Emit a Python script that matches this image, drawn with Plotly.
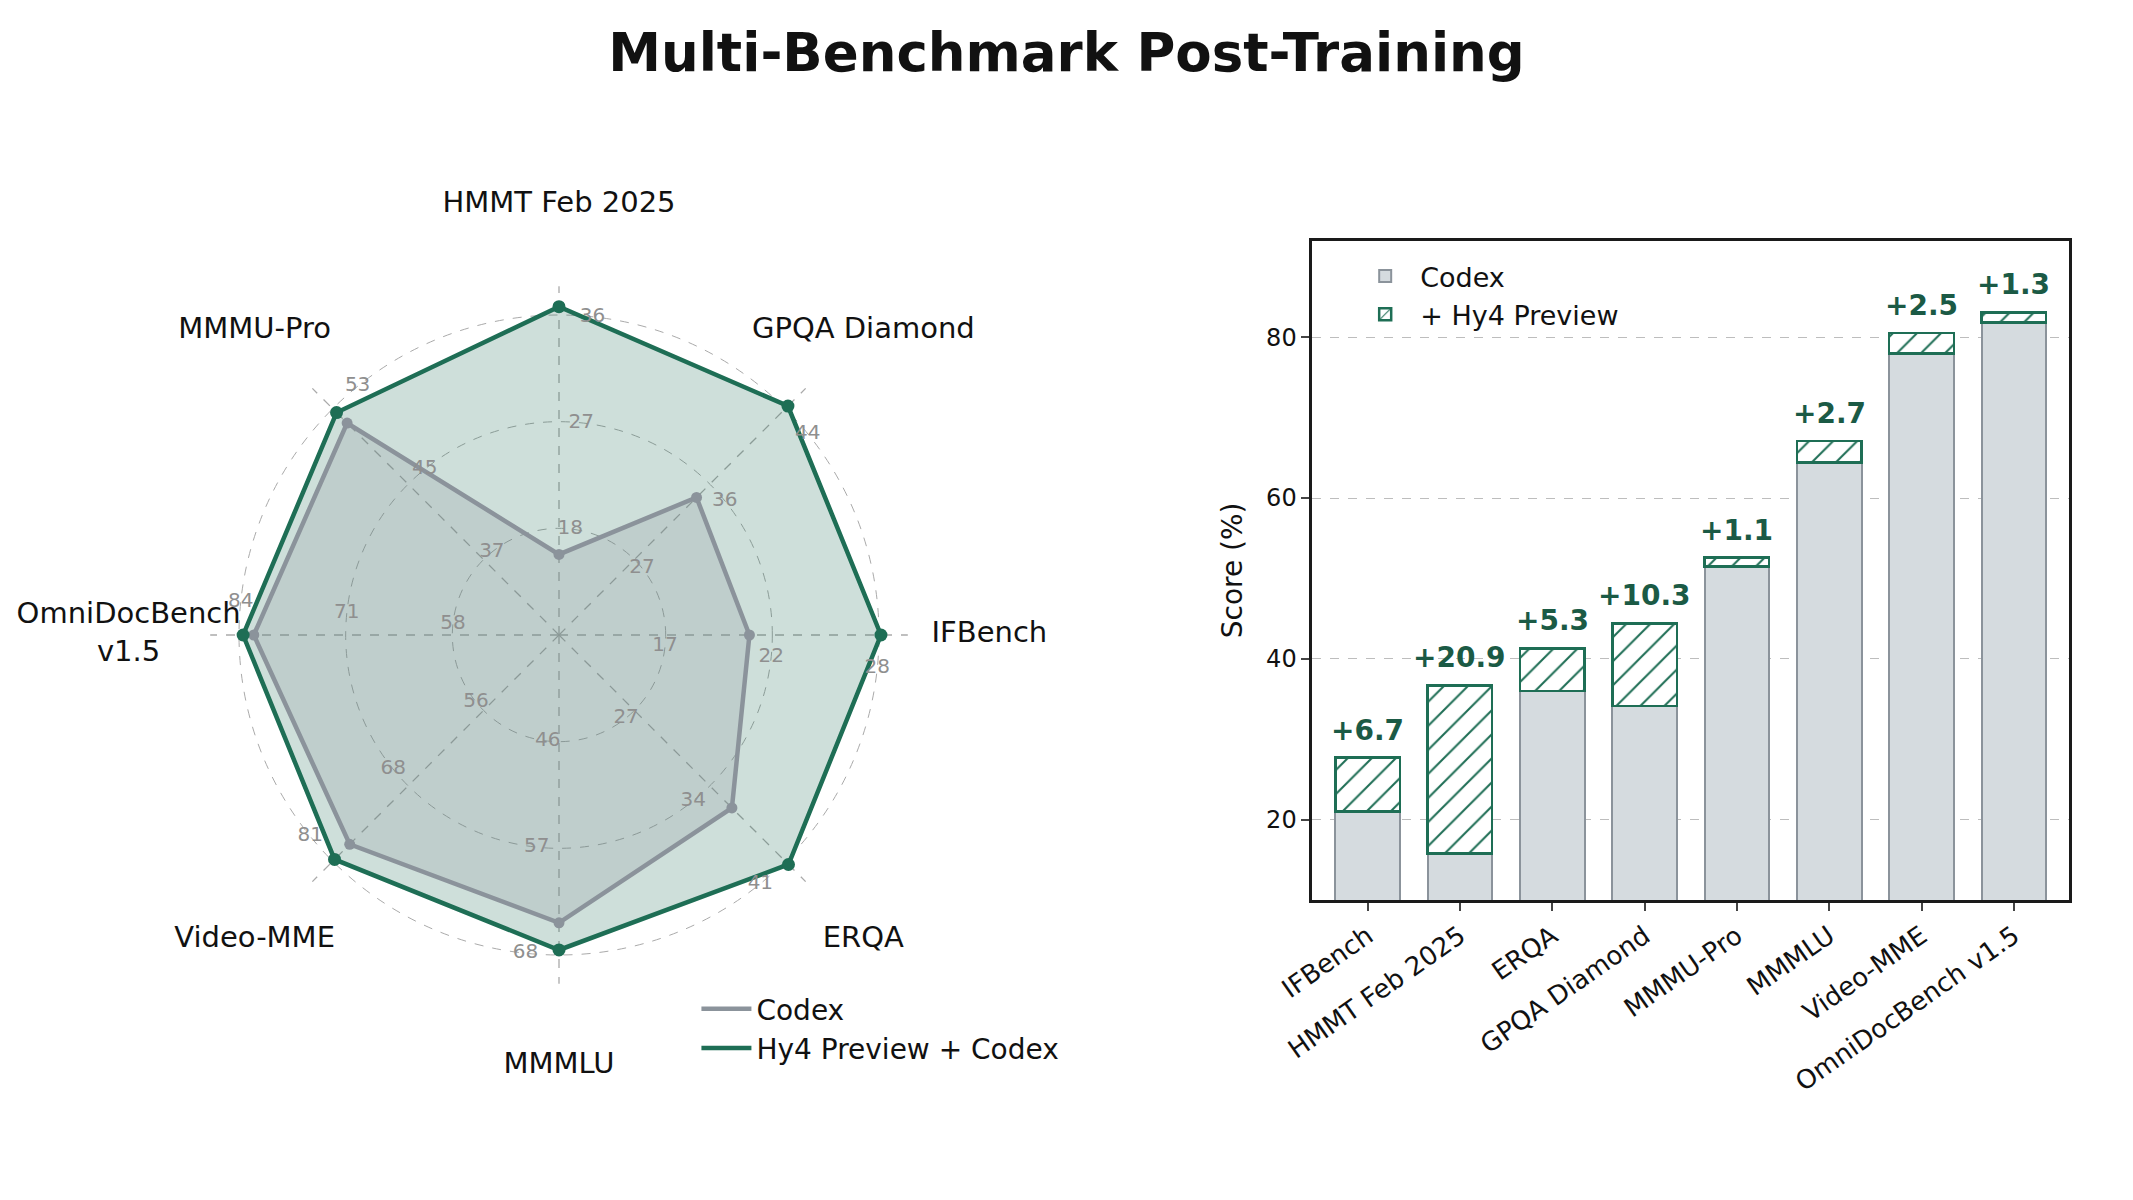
import plotly.graph_objects as go

# benchmarks, ordered as in the bar panel (by final score)
bench = ["IFBench", "HMMT Feb 2025", "ERQA", "GPQA Diamond",
         "MMMU-Pro", "MMMLU", "Video-MME", "OmniDocBench v1.5"]
codex = [21.0, 15.8, 36.0, 34.1, 51.5, 64.4, 78.0, 81.8]
gain = [6.7, 20.9, 5.3, 10.3, 1.1, 2.7, 2.5, 1.3]

# radar spokes, counter-clockwise starting at 3 o'clock
radar_bench = ["IFBench", "GPQA Diamond", "HMMT Feb 2025", "MMMU-Pro",
               "OmniDocBench v1.5", "Video-MME", "MMMLU", "ERQA"]
radar_names = ["IFBench", "GPQA Diamond", "HMMT Feb 2025", "MMMU-Pro",
               "OmniDocBench<br>v1.5", "Video-MME", "MMMLU", "ERQA"]
# per-spoke value range (centre -> outer ring) and ring labels
axis_lo = [11.3, 18.6, 9.0, 29.4, 44.6, 43.5, 35.8, 19.8]
axis_hi = [27.6, 44.1, 36.0, 53.0, 83.6, 80.8, 67.6, 41.0]
ring_ticks = [[17, 22, 28], [27, 36, 44], [18, 27, 36], [37, 45, 53],
              [58, 71, 84], [56, 68, 81], [46, 57, 68], [27, 34, 41]]

GREEN = "#1e6e55"
DKGREEN = "#1b5a45"
GRAY = "#8b939b"
BARGRAY = "#d5dbdf"
GRID = "#aaaaaa"
FONT = "DejaVu Sans"

n = len(radar_bench)
angles = [i * 360 / n for i in range(n)]
SPOKE_END = 1.09
NAME_R = 1.345
R_MAX = 1.38


def norm(vals):
    out = []
    for i, b in enumerate(radar_bench):
        v = vals[bench.index(b)]
        out.append((v - axis_lo[i]) / (axis_hi[i] - axis_lo[i]))
    return out + out[:1]


total = [c + g for c, g in zip(codex, gain)]
r_codex = norm(codex)
r_total = norm(total)
th = angles + angles[:1]

fig = go.Figure()

# dashed spokes
for a in angles:
    fig.add_trace(go.Scatterpolar(r=[0, SPOKE_END], theta=[a, a], mode="lines",
                                  line=dict(color=GRID, width=1.3, dash="dash"),
                                  showlegend=False, hoverinfo="skip"))

# radar fills
fig.add_trace(go.Scatterpolar(r=r_total, theta=th, mode="lines", fill="toself",
                              fillcolor="rgba(30,110,85,0.22)", line=dict(width=0),
                              showlegend=False, hoverinfo="skip"))
fig.add_trace(go.Scatterpolar(r=r_codex, theta=th, mode="lines", fill="toself",
                              fillcolor="rgba(139,147,155,0.22)", line=dict(width=0),
                              showlegend=False, hoverinfo="skip"))
# radar lines (legend) + markers
fig.add_trace(go.Scatterpolar(r=r_codex, theta=th, mode="lines", name="Codex",
                              line=dict(color=GRAY, width=4.5), legend="legend",
                              legendgroup="a"))
fig.add_trace(go.Scatterpolar(r=r_total, theta=th, mode="lines", name="Hy4 Preview + Codex",
                              line=dict(color=GREEN, width=4.5), legend="legend",
                              legendgroup="b"))
fig.add_trace(go.Scatterpolar(r=r_codex[:-1], theta=angles, mode="markers",
                              marker=dict(color=GRAY, size=11), showlegend=False))
fig.add_trace(go.Scatterpolar(r=r_total[:-1], theta=angles, mode="markers",
                              marker=dict(color=GREEN, size=13), showlegend=False))

# ring labels per spoke, nudged a little clockwise
rl_r, rl_t, rl_txt = [], [], []
for i in range(n):
    for k in range(3):
        rl_r.append((k + 1) / 3)
        rl_t.append(angles[i] - 6)
        rl_txt.append(str(ring_ticks[i][k]))
fig.add_trace(go.Scatterpolar(r=rl_r, theta=rl_t, mode="text", text=rl_txt,
                              textfont=dict(size=20, color="#8f8f8f", family=FONT),
                              showlegend=False, cliponaxis=False, hoverinfo="skip"))
# spoke names
fig.add_trace(go.Scatterpolar(r=[NAME_R] * n, theta=angles, mode="text", text=radar_names,
                              textfont=dict(size=29, color="#111111", family=FONT),
                              showlegend=False, cliponaxis=False, hoverinfo="skip"))

# stacked bars
fig.add_trace(go.Bar(x=bench, y=codex, name="Codex", width=0.7,
                     marker=dict(color=BARGRAY, line=dict(color=GRAY, width=2)),
                     legend="legend2", legendgroup="c", xaxis="x", yaxis="y"))
fig.add_trace(go.Bar(x=bench, y=gain, name="+ Hy4 Preview", width=0.7,
                     marker=dict(color="white", line=dict(color=GREEN, width=2.5),
                                 pattern=dict(shape="/", fgcolor=GREEN, bgcolor="white",
                                              size=17, solidity=0.12)),
                     legend="legend2", legendgroup="d", xaxis="x", yaxis="y"))

for b, t, g in zip(bench, total, gain):
    fig.add_annotation(x=b, y=t, xref="x", yref="y", text="+%.1f" % g, showarrow=False,
                       yanchor="bottom", yshift=9,
                       font=dict(size=28, color=DKGREEN, family=FONT, weight="bold"))

half = R_MAX * 320
fig.update_layout(
    width=2133, height=1200, template="none",
    margin=dict(l=0, r=0, t=0, b=0),
    paper_bgcolor="white", plot_bgcolor="white",
    font=dict(family=FONT, color="#111111"),
    title=dict(text="<b>Multi-Benchmark Post-Training</b>", x=0.5, xanchor="center",
               y=1 - 52 / 1200, yanchor="middle", yref="container",
               font=dict(size=53, family=FONT, color="#111111")),
    barmode="stack",
    polar=dict(
        domain=dict(x=[(559 - half) / 2133, (559 + half) / 2133],
                    y=[1 - (635 + half) / 1200, 1 - (635 - half) / 1200]),
        bgcolor="rgba(0,0,0,0)",
        radialaxis=dict(range=[0, R_MAX], tickvals=[1 / 3, 2 / 3, 1], showticklabels=False,
                        ticks="", showline=False, gridcolor=GRID, gridwidth=1.3,
                        griddash="dash", layer="below traces"),
        angularaxis=dict(thetaunit="degrees", direction="counterclockwise", rotation=0,
                         showticklabels=False, ticks="", showline=False, showgrid=False),
    ),
    xaxis=dict(domain=[0.6152, 0.9701], range=[-0.6, 7.6], tickangle=-35,
               tickfont=dict(size=26), ticks="outside", ticklen=8, tickwidth=2,
               showline=True, mirror=True, linecolor="#1a1a1a", linewidth=2.5,
               showgrid=False, zeroline=False),
    yaxis=dict(domain=[0.25, 0.7994], range=[10, 92], tickvals=[20, 40, 60, 80],
               tickfont=dict(size=24), ticks="outside", ticklen=8, tickwidth=2,
               showline=True, mirror=True, linecolor="#1a1a1a", linewidth=2.5,
               showgrid=True, gridcolor="#bdbdbd", gridwidth=1.3, griddash="dash",
               zeroline=False,
               title=dict(text="Score (%)", font=dict(size=28), standoff=16)),
    legend=dict(x=0.3265, y=1 - 984 / 1200, xanchor="left", yanchor="top",
                font=dict(size=28), bgcolor="rgba(0,0,0,0)", itemwidth=50,
                traceorder="normal", tracegroupgap=4),
    legend2=dict(x=0.633, y=1 - 252 / 1200, xanchor="left", yanchor="top",
                 font=dict(size=27), bgcolor="rgba(0,0,0,0)", itemwidth=60,
                 traceorder="normal", tracegroupgap=11),
)

fig.write_html("out.html", config={"displayModeBar": False},
               post_script="document.body.style.margin='0px';")
